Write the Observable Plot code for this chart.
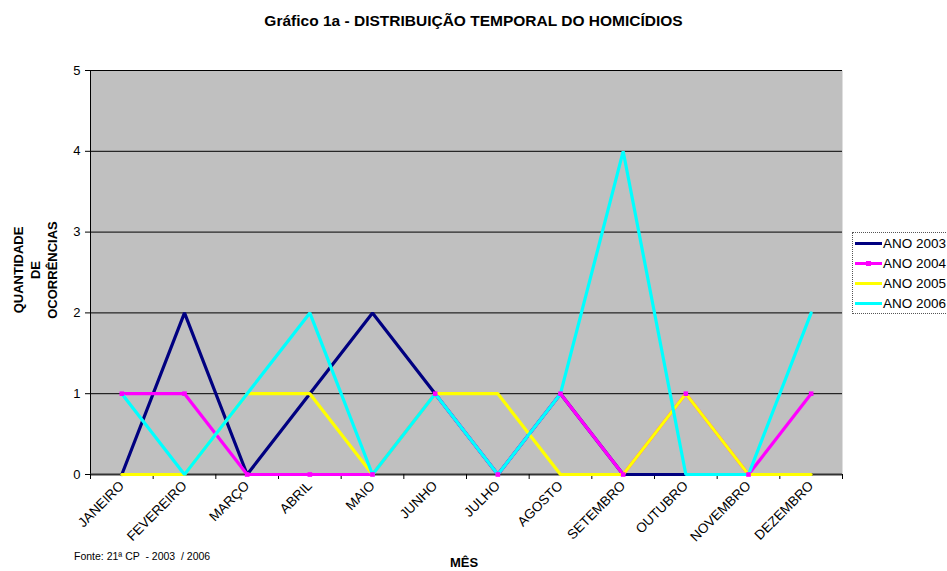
<!DOCTYPE html>
<html>
<head>
<meta charset="utf-8">
<script src="https://cdn.jsdelivr.net/npm/d3@7"></script>
<script src="https://cdn.jsdelivr.net/npm/@observablehq/plot@0.6"></script>
<style>
  body { margin: 0; background: #fff; font-family: "Liberation Sans", Arial, sans-serif; }
  #wrap { position: relative; width: 947px; height: 571px; overflow: hidden; }
  #chart { position: absolute; left: 0; top: 0; }
  .abs { position: absolute; color: #000; white-space: nowrap; }
  #title { left: 0; width: 947px; top: 12px; text-align: center; font-weight: bold; font-size: 15.5px; }
  #ytitle { left: 35px; top: 270px; transform: translate(-50%, -50%) rotate(-90deg); font-weight: bold; font-size: 13px; text-align: center; line-height: 17px; }
  #fonte { left: 74px; top: 550px; font-size: 10.5px; white-space: pre; }
  #xtitle { left: 450px; top: 555px; font-size: 13px; line-height: 15px; font-weight: bold; }
  #legend { left: 852px; top: 232px; width: 100px; height: 80px; border: 1px dotted #555; background: #fff; }
  .li { position: absolute; left: 2px; height: 20px; display: flex; align-items: center; font-size: 13.5px; }
  .sw { position: relative; width: 27px; height: 3px; margin-right: 1px; }
  .mk { position: absolute; left: 11px; top: -1px; width: 5px; height: 5px; }
</style>
</head>
<body>
<div id="wrap">
  <div id="chart"></div>
  <div id="title" class="abs"></div>
  <div id="ytitle" class="abs"></div>
  <div id="fonte" class="abs"></div>
  <div id="xtitle" class="abs"></div>
  <div id="legend" class="abs"></div>
</div>
<script>
const titleText = "Gráfico 1a - DISTRIBUIÇÃO TEMPORAL DO HOMICÍDIOS";
const yTitleLines = ["QUANTIDADE", "DE", "OCORRÊNCIAS"];
const xTitleText = "MÊS";
const sourceText = "Fonte: 21ª CP  - 2003  / 2006";

const months = ["JANEIRO","FEVEREIRO","MARÇO","ABRIL","MAIO","JUNHO","JULHO","AGOSTO","SETEMBRO","OUTUBRO","NOVEMBRO","DEZEMBRO"];
const seriesNames = ["ANO 2003","ANO 2004","ANO 2005","ANO 2006"];
const seriesColors = ["#000080","#ff00ff","#ffff00","#00ffff"];

const ano2003 = [0, 2, 0, 1, 2, 1, 0, 1, 0, 0, 0, 0];
const ano2004 = [1, 1, 0, 0, 0, 1, 0, 1, 0, 1, 0, 1];
const ano2005 = [0, 0, 1, 1, 0, 1, 1, 0, 0, 1, 0, 0];
const ano2006 = [1, 0, 1, 2, 0, 1, 0, 1, 4, 0, 0, 2];
const yTicks = [0, 1, 2, 3, 4, 5];

const allSeries = [ano2003, ano2004, ano2005, ano2006];
const data = [];
allSeries.forEach((vals, s) => vals.forEach((v, i) => data.push({i, v, year: seriesNames[s]})));
const data2004 = data.filter(d => d.year === "ANO 2004");

const idx = d3.range(months.length);
const bounds = d3.range(months.length + 1).map(k => k - 0.5);

const font = '"Liberation Sans", Arial, sans-serif';

const chart = Plot.plot({
  width: 947,
  height: 571,
  marginLeft: 90,
  marginRight: 105,
  marginTop: 70,
  marginBottom: 97,
  style: { fontFamily: font, fontSize: "13px", background: "transparent", color: "#000" },
  x: { type: "linear", domain: [-0.5, months.length - 0.5], axis: null },
  y: { domain: [0, 5], axis: null },
  color: { domain: seriesNames, range: seriesColors },
  marks: [
    Plot.frame({ fill: "#c0c0c0", stroke: null }),
    Plot.gridY(yTicks, { stroke: "#000", strokeOpacity: 1, strokeWidth: 1 }),
    Plot.ruleX([-0.5], { stroke: "#000", strokeWidth: 1 }),
    Plot.ruleY([0], { stroke: "#333", strokeWidth: 2 }),
    Plot.axisY(yTicks, { tickSize: 5, tickPadding: 5, fontSize: 13, label: null, stroke: "#000", tickFormat: d3.format("d") }),
    Plot.axisX(bounds, { tickSize: 5, tickFormat: () => "", label: null, stroke: "#000" }),
    Plot.axisX(idx, { tickSize: 0, tickPadding: 9, tickRotate: -45, fontSize: 13.5, label: null, tickFormat: i => months[i] }),
    Plot.line(data, { x: "i", y: "v", z: "year", stroke: "year", strokeWidth: 3.2, strokeLinejoin: "miter" }),
    Plot.dot(data2004, { x: "i", y: "v", symbol: "square", r: 2.6, fill: seriesColors[1], stroke: null })
  ]
});
document.getElementById("chart").appendChild(chart);

document.getElementById("title").textContent = titleText;
document.getElementById("ytitle").innerHTML = yTitleLines.join("<br>");
document.getElementById("xtitle").textContent = xTitleText;
document.getElementById("fonte").textContent = sourceText;

const legend = document.getElementById("legend");
seriesNames.forEach((name, s) => {
  const row = document.createElement("div");
  row.className = "li";
  row.style.top = (s * 20) + "px";
  const sw = document.createElement("div");
  sw.className = "sw";
  sw.style.background = seriesColors[s];
  if (s === 1) {
    const mk = document.createElement("div");
    mk.className = "mk";
    mk.style.background = seriesColors[s];
    sw.appendChild(mk);
  }
  const tx = document.createElement("span");
  tx.textContent = name;
  row.appendChild(sw);
  row.appendChild(tx);
  legend.appendChild(row);
});
</script>
</body>
</html>
